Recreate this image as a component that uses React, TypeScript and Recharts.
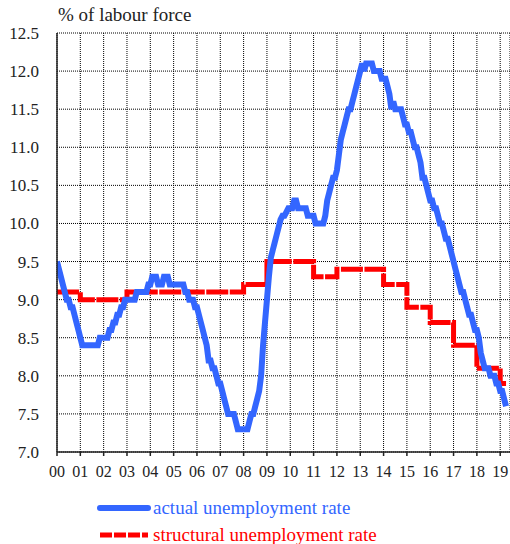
import React from 'react';
import { LineChart, Line, XAxis, YAxis, CartesianGrid } from 'recharts';

// x tick labels, one per year 2000..2019
const yearLabels = ['00', '01', '02', '03', '04', '05', '06', '07', '08', '09', '10', '11', '12', '13', '14', '15', '16', '17', '18', '19'];
const yTicks = [7.0, 7.5, 8.0, 8.5, 9.0, 9.5, 10.0, 10.5, 11.0, 11.5, 12.0, 12.5];

// actual unemployment rate, monthly from Jan 2000
const actualMonthly = [
    9.5, 9.4, 9.3, 9.2, 9.1, 9.0, 9.0, 8.9, 8.9, 8.8, 8.7, 8.6, // 2000
    8.5, 8.4, 8.4, 8.4, 8.4, 8.4, 8.4, 8.4, 8.4, 8.4, 8.5, 8.5, // 2001
    8.5, 8.5, 8.5, 8.6, 8.6, 8.7, 8.7, 8.8, 8.8, 8.9, 8.9, 9.0, // 2002
    9.0, 9.0, 9.0, 9.0, 9.0, 9.1, 9.1, 9.1, 9.1, 9.1, 9.1, 9.2, // 2003
    9.2, 9.3, 9.3, 9.3, 9.2, 9.2, 9.2, 9.3, 9.3, 9.3, 9.2, 9.2, // 2004
    9.2, 9.2, 9.2, 9.2, 9.2, 9.2, 9.1, 9.1, 9.0, 9.0, 9.0, 8.9, // 2005
    8.9, 8.8, 8.7, 8.6, 8.5, 8.4, 8.2, 8.2, 8.1, 8.1, 8.0, 7.9, // 2006
    7.9, 7.8, 7.7, 7.6, 7.5, 7.5, 7.5, 7.5, 7.4, 7.3, 7.3, 7.3, // 2007
    7.3, 7.3, 7.3, 7.4, 7.5, 7.5, 7.6, 7.7, 7.8, 8.0, 8.4, 8.7, // 2008
    9.0, 9.3, 9.55, 9.65, 9.75, 9.85, 9.95, 10.05, 10.1, 10.1, 10.15, 10.2, // 2009
    10.2, 10.2, 10.3, 10.3, 10.2, 10.2, 10.2, 10.2, 10.2, 10.1, 10.1, 10.1, // 2010
    10.1, 10.0, 10.0, 10.0, 10.0, 10.0, 10.1, 10.3, 10.4, 10.5, 10.6, 10.6, // 2011
    10.7, 10.9, 11.1, 11.2, 11.3, 11.4, 11.5, 11.5, 11.6, 11.7, 11.8, 11.9, // 2012
    12.0, 12.1, 12.0, 12.1, 12.1, 12.1, 12.1, 12.0, 12.0, 12.0, 12.0, 11.9, // 2013
    11.9, 11.9, 11.8, 11.7, 11.5, 11.6, 11.5, 11.5, 11.5, 11.5, 11.4, 11.3, // 2014
    11.3, 11.2, 11.2, 11.1, 11.0, 11.0, 10.9, 10.8, 10.6, 10.6, 10.5, 10.4, // 2015
    10.3, 10.3, 10.2, 10.2, 10.1, 10.0, 10.0, 9.9, 9.8, 9.8, 9.7, 9.6, // 2016
    9.5, 9.4, 9.3, 9.2, 9.1, 9.1, 9.0, 8.9, 8.8, 8.8, 8.7, 8.6, // 2017
    8.6, 8.5, 8.3, 8.2, 8.1, 8.1, 8.1, 8.0, 8.0, 8.0, 7.9, 7.9, // 2018
    7.8, 7.8, 7.7, 7.6, // 2019
];

// structural unemployment rate: level from each break year on
const structuralBreaks = [0, 1, 3, 8, 9, 11, 12, 14, 15, 16, 17, 18, 19, 19.25];
const structuralValues = [9.1, 9.0, 9.1, 9.2, 9.5, 9.3, 9.4, 9.2, 8.9, 8.7, 8.4, 8.1, 7.9, 7.9];

const BLUE = '#3366FF';
const RED = '#FF0000';
const FONT = '"Liberation Serif", "Times New Roman", serif';

const actualData = actualMonthly.map((v, i) => ({ t: i / 12, actual: v }));
const structuralData = structuralBreaks.map((t, i) => ({ t, structural: structuralValues[i] }));

export default function App() {
    return (
        <div style={{ position: 'absolute', left: 0, top: 0, width: 510, height: 544, fontFamily: FONT, background: '#fff' }}>
            <div style={{ position: 'absolute', left: 58, top: 4, fontSize: 19, color: '#222' }}>% of labour force</div>
            <LineChart width={510} height={544} data={actualData} margin={{ top: 33, right: 0, bottom: 62, left: 0 }}>
                <CartesianGrid stroke="#000" strokeDasharray="1 1" strokeWidth={1} />
                <XAxis
                    type="number"
                    dataKey="t"
                    domain={[0, 19.42]}
                    ticks={yearLabels.map((_, i) => i)}
                    interval={0}
                    tickFormatter={(v: number) => yearLabels[v] ?? ''}
                    allowDataOverflow
                    height={30}
                    tickSize={4}
                    tickMargin={10}
                    stroke="#222"
                    strokeWidth={1.5}
                    tick={{ fill: '#222', fontSize: 16, fontFamily: FONT }}
                />
                <YAxis
                    type="number"
                    domain={[7, 12.5]}
                    ticks={yTicks}
                    interval={0}
                    tickFormatter={(v: number) => v.toFixed(1)}
                    width={57}
                    tickLine={false}
                    tickSize={0}
                    tickMargin={18}
                    stroke="#222"
                    strokeWidth={1.5}
                    tick={{ fill: '#222', fontSize: 17, fontFamily: FONT }}
                />
                <Line
                    data={structuralData}
                    dataKey="structural"
                    type="stepAfter"
                    stroke={RED}
                    strokeWidth={5}
                    strokeDasharray="22 1.5"
                    dot={false}
                    activeDot={false}
                    isAnimationActive={false}
                />
                <Line
                    dataKey="actual"
                    type="linear"
                    stroke={BLUE}
                    strokeWidth={6}
                    dot={false}
                    activeDot={false}
                    isAnimationActive={false}
                />
            </LineChart>
            <div style={{ position: 'absolute', left: 97, top: 494, fontSize: 19, lineHeight: '27px' }}>
                <div style={{ display: 'flex', alignItems: 'center', color: BLUE }}>
                    <svg width={54} height={10}>
                        <line x1={3} y1={5} x2={51} y2={5} stroke={BLUE} strokeWidth={6} strokeLinecap="round" />
                    </svg>
                    <span style={{ marginLeft: 2 }}>actual unemployment rate</span>
                </div>
                <div style={{ display: 'flex', alignItems: 'center', color: RED }}>
                    <svg width={54} height={10}>
                        <line x1={3} y1={5} x2={51} y2={5} stroke={RED} strokeWidth={5} strokeDasharray="12 2" />
                    </svg>
                    <span style={{ marginLeft: 2 }}>structural unemployment rate</span>
                </div>
            </div>
        </div>
    );
}
